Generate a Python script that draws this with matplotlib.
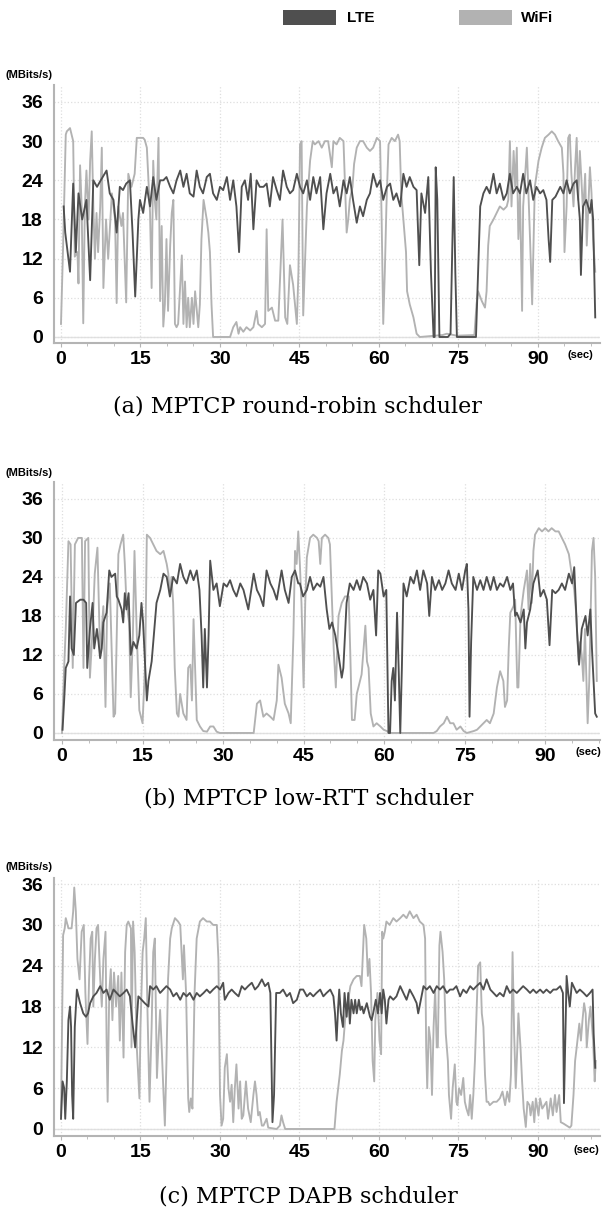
import matplotlib
matplotlib.use("Agg")
import matplotlib.pyplot as plt
from matplotlib.patches import Rectangle
from matplotlib.ticker import MultipleLocator

# ---------------- data ----------------
x_ticks = [0, 15, 30, 45, 60, 75, 90]
y_ticks = [0, 6, 12, 18, 24, 30, 36]
captions = ["(a) MPTCP round-robin schduler",
            "(b) MPTCP low-RTT schduler",
            "(c) MPTCP DAPB schduler"]
series_names = ["LTE", "WiFi"]

# (a) round-robin
a_lte_t = [0.5, 0.8, 1.1, 1.7, 2.3, 2.8, 3.3, 4.0, 4.8, 5.5, 6.1, 6.8, 7.5, 8.6, 9.2, 9.9, 10.5, 11.1, 11.7, 12.3,
           13.0, 13.5, 14.0, 14.6, 14.9, 15.5, 16.2, 16.8, 17.4, 18.0, 18.7, 19.3, 19.9, 20.6, 21.2, 21.8, 22.5, 23.1,
           23.7, 24.3, 25.0, 25.6, 26.2, 26.8, 27.5, 28.1, 28.7, 29.4, 30.0, 30.6, 31.3, 31.9, 32.5, 33.1, 33.6, 34.1,
           34.7, 35.3, 35.8, 36.3, 36.9, 37.5, 38.2, 38.8, 39.4, 40.0, 40.7, 41.3, 41.9, 42.6, 43.2, 43.8, 44.5, 45.1,
           45.7, 46.4, 47.0, 47.6, 48.2, 48.9, 49.5, 50.1, 50.8, 51.4, 52.0, 52.6, 53.3, 53.9, 54.5, 55.1, 55.8, 56.4,
           57.0, 57.7, 58.3, 58.9, 59.6, 60.2, 60.8, 61.5, 62.1, 62.7, 63.3, 64.0, 64.6, 65.2, 65.8, 66.5, 67.1, 67.6,
           68.0, 68.7, 69.3, 69.8, 70.3, 70.5, 70.7, 71.0, 71.4, 73.0, 73.5, 74.1, 74.4, 74.7, 78.3, 78.7, 79.1, 79.7,
           80.3, 80.9, 81.6, 82.2, 82.8, 83.5, 84.1, 84.7, 85.3, 86.0, 86.6, 87.2, 87.8, 88.5, 89.1, 89.7, 90.4, 91.0,
           91.6, 92.0, 92.3, 92.7, 93.3, 94.2, 94.8, 95.4, 96.0, 96.7, 97.3, 97.9, 98.1, 98.5, 99.1, 99.8, 100.1,
           100.4, 100.8]
a_lte_v = [20, 16, 14, 10, 23.5, 13, 22, 18, 21, 8.7, 24, 23, 24, 25.5, 22, 21, 16, 23, 22.5, 23.5,
           24, 16, 6.2, 18, 21, 19, 23, 20, 24.5, 21, 24, 24, 24.5, 23, 22, 24, 25.5, 23,
           25, 22, 21.5, 25.5, 23, 22, 24.5, 25, 22, 21, 23, 22.5, 24.5, 21, 24, 20, 13, 23,
           24, 21, 25, 16.5, 24, 23, 23, 23.5, 20, 24.5, 22.5, 21, 25.5, 23, 22, 22.5, 25, 23,
           22, 24, 21, 24.5, 22, 24.5, 16.5, 22, 25, 22, 23, 20, 24, 22, 24.5, 21, 17.5, 20,
           18.5, 21, 22, 25, 23, 24, 21, 23, 23.5, 21, 22, 20, 25, 23, 24.5, 23, 22.5, 11,
           22, 19, 24.5, 10, 0, 0, 26, 21, 0, 0, 0.5, 24.5, 10, 0, 0, 10, 20, 22,
           23, 22, 25, 22, 23.5, 21, 22, 25, 22, 23, 22, 25, 22, 24, 21, 23, 22, 22.5,
           21, 15, 11.5, 21, 21.5, 23, 22, 24, 22, 23.5, 24, 18, 9.5, 20, 21, 19, 21,
           18, 3]
a_wifi_t = [0.0, 0.4, 0.9, 1.1, 1.7, 2.0, 2.3, 2.6, 3.1, 3.3, 3.6, 3.9, 4.2, 4.5, 4.8, 5.2, 5.5, 5.8, 6.1, 6.4,
            6.7, 7.0, 7.4, 7.7, 8.0, 8.5, 8.9, 9.6, 10.2, 10.5, 10.8, 11.4, 11.7, 12.3, 12.7, 13.3, 13.9, 14.3,
            14.9, 15.5, 15.8, 16.2, 16.5, 16.8, 17.1, 17.4, 17.7, 18.0, 18.4, 18.7, 19.0, 19.3, 19.6, 19.9, 20.2,
            20.6, 20.9, 21.2, 21.5, 21.8, 22.1, 22.8, 23.1, 23.4, 23.7, 24.0, 24.3, 24.7, 25.0, 25.3, 25.9, 26.2,
            26.5, 26.9, 27.2, 27.5, 27.8, 28.1, 28.4, 28.7, 31.9, 32.5, 33.1, 33.5, 33.8, 34.4, 35.0, 35.7, 36.3,
            36.9, 37.2, 37.9, 38.5, 38.8, 39.1, 39.8, 40.4, 41.0, 41.8, 42.3, 42.7, 43.2, 43.8, 44.5, 44.8, 45.1,
            45.4, 45.7, 46.4, 47.0, 47.5, 47.9, 48.6, 49.2, 49.8, 50.4, 51.1, 51.4, 52.0, 52.6, 53.3, 53.9, 54.2,
            54.5, 55.0, 55.3, 55.8, 56.4, 57.0, 57.7, 58.3, 58.9, 59.6, 60.2, 60.5, 60.8, 61.1, 61.4, 61.8, 62.4,
            63.0, 63.6, 63.9, 64.2, 64.7, 65.1, 65.3, 65.8, 66.5, 67.1, 67.7, 72.0, 72.8, 74.7, 78.0, 78.4, 78.7,
            79.4, 80.0, 80.3, 80.6, 80.9, 81.6, 82.2, 82.8, 83.5, 84.1, 84.4, 84.7, 85.0, 85.4, 85.7, 86.0, 86.3,
            86.6, 87.0, 87.2, 87.9, 88.2, 88.5, 88.9, 89.4, 90.1, 90.7, 91.3, 92.0, 92.6, 93.2, 93.8, 94.5, 94.8,
            95.0, 95.4, 95.7, 96.0, 96.3, 96.7, 97.0, 97.3, 97.6, 97.9, 98.2, 98.5, 98.9, 99.2, 99.5, 99.8, 100.1,
            100.4, 100.8]
a_wifi_v = [2, 14, 31, 31.5, 32, 31, 30, 12.3, 13, 8.2, 26.3, 20, 2.1, 20, 25.5, 18, 27, 31.5, 20, 12,
            19, 13, 20, 29, 7.5, 18, 12, 22, 18, 5.2, 20, 17, 19, 5.3, 25, 23, 25, 30.5,
            30.5, 30.5, 30.2, 29, 24, 19, 7.5, 27, 21, 18, 30.5, 5.5, 17, 1.6, 5, 15, 4,
            14, 19, 21, 2, 1.5, 2, 12.5, 2, 8.5, 1.5, 6, 1.5, 6, 2, 7, 1.5, 5,
            15, 21, 19.5, 18, 16, 13, 5, 0, 0, 1.5, 2.3, 0.5, 1.5, 0.8, 1.5, 1, 1.5,
            4, 2, 1.5, 2, 16.5, 4, 4.5, 2.5, 2.5, 18, 3, 2, 11, 8, 2, 10, 29.5,
            30, 3.3, 20, 27, 30, 29.5, 30, 29, 30, 30, 26, 30, 29.5, 30.5, 30, 16, 18,
            21, 23, 26.5, 29, 30, 30, 29, 28.5, 29, 30.5, 30, 18, 2, 10, 20, 29.5, 30.5,
            30, 31, 30, 22, 17, 13, 7, 5, 3, 0.5, 0, 0.3, 0.5, 0.2, 0.3, 5, 7,
            5.5, 4.5, 7, 14, 17, 18, 19, 20, 19.5, 20, 21, 30, 20, 28.5, 23, 29, 15,
            22, 4, 20, 29, 22, 15, 5, 23, 27, 29, 30.5, 31, 31.5, 31, 30, 29, 25,
            13, 20, 30.5, 31, 25, 20, 26, 30.5, 21, 28.5, 24, 19, 25, 14, 20, 26, 22,
            15, 10]

# (b) low-RTT
b_lte_t = [0.1, 0.4, 0.7, 1.2, 1.5, 1.8, 2.2, 2.6, 3.4, 4.0, 4.5, 4.7, 5.2, 5.7, 6.0, 6.5, 6.8, 7.1, 7.4, 7.7,
           8.3, 8.8, 9.2, 9.9, 10.2, 10.5, 11.1, 11.4, 11.7, 12.0, 12.4, 12.8, 13.3, 13.9, 14.4, 14.8, 15.1, 15.8,
           16.1, 16.7, 17.1, 17.6, 18.3, 18.9, 19.5, 20.1, 20.7, 21.4, 22.0, 22.6, 23.2, 23.9, 24.5, 25.1, 25.6,
           26.0, 26.3, 26.6, 27.0, 27.3, 27.6, 28.2, 28.8, 29.4, 30.1, 30.7, 31.3, 31.9, 32.5, 33.2, 33.8, 34.7,
           35.7, 36.3, 36.9, 37.5, 38.1, 38.8, 39.4, 40.0, 40.9, 41.5, 42.2, 42.8, 43.4, 44.0, 44.3, 44.9, 45.6,
           46.2, 46.8, 47.5, 48.1, 48.7, 49.3, 49.8, 50.3, 50.9, 51.5, 52.1, 52.4, 53.0, 53.6, 54.3, 54.9, 55.5,
           56.1, 56.8, 57.4, 58.0, 58.5, 58.9, 59.3, 59.9, 60.4, 60.8, 61.1, 61.4, 61.7, 62.0, 62.4, 62.7, 63.0,
           63.3, 63.6, 64.2, 64.9, 65.5, 66.1, 66.7, 67.3, 68.0, 68.4, 68.9, 69.5, 70.2, 70.8, 71.4, 72.0, 72.6,
           73.3, 73.9, 74.5, 75.1, 75.4, 75.7, 75.9, 76.2, 76.6, 77.3, 77.9, 78.5, 79.1, 79.8, 80.4, 81.0, 81.6,
           82.2, 82.9, 83.5, 84.0, 84.4, 84.7, 85.4, 86.0, 86.3, 86.6, 87.2, 87.8, 88.6, 89.1, 89.7, 90.3, 90.8,
           91.3, 91.9, 92.5, 93.1, 93.7, 94.4, 95.0, 95.4, 95.9, 96.3, 96.8, 97.5, 97.9, 98.4, 98.7, 99.0, 99.3,
           99.6]
b_lte_v = [0.5, 5, 10, 11, 21, 13, 12, 20, 20.5, 20.5, 20, 10, 16, 20, 13, 16, 14, 11.5, 13, 17,
           18.5, 25, 24, 24.5, 21, 20.5, 19, 17, 21.5, 19, 21.5, 12, 14, 13, 15, 20, 17, 5,
           8, 11, 15, 20, 22, 24.5, 24, 21, 24, 23, 26, 24, 23, 25, 23.5, 25, 22,
           15, 7, 16, 7, 15, 26.5, 22, 23, 19.5, 23, 22.5, 23.5, 22, 21, 23, 22, 19,
           24.5, 22, 21, 19.5, 25, 23, 22, 20.5, 25, 22, 20, 24, 25, 23, 23, 21, 22,
           24, 22, 23, 22.5, 24, 19, 16, 17, 15, 12, 8.5, 10, 20, 23, 22, 23.5, 22,
           24, 23, 20.5, 22, 15, 25, 24.5, 21, 22, 0, 0, 8, 10, 5, 18.5, 10, 0,
           10, 23, 21, 24, 23, 25, 22, 25, 23, 18, 24, 22, 23.5, 22, 23, 25, 23,
           22, 24.5, 22, 25, 26, 19, 2.5, 14, 24, 22, 23.5, 22, 24, 22, 24, 22, 23,
           22.5, 24, 22, 23, 18, 18.5, 17, 19, 13, 17, 19, 23, 25, 21, 22, 20.5, 13.5,
           22, 21.5, 22, 23, 22, 24.5, 23, 25.5, 16, 10.5, 16, 18, 15, 19, 13, 8, 3,
           2.5]
b_wifi_t = [0.0, 0.4, 0.7, 1.2, 1.6, 2.0, 2.4, 3.0, 3.7, 4.0, 4.3, 4.9, 5.2, 5.7, 6.1, 6.6, 7.1, 7.7, 8.1, 8.4,
            8.9, 9.6, 9.9, 10.2, 10.5, 10.9, 11.4, 11.7, 12.0, 12.5, 12.8, 13.2, 13.5, 13.9, 14.4, 15.0, 15.5, 15.8,
            16.4, 17.0, 17.6, 18.3, 18.9, 19.5, 19.8, 20.1, 20.4, 20.7, 21.0, 21.4, 21.7, 22.0, 22.6, 23.2, 23.5,
            23.9, 24.2, 24.5, 24.8, 25.1, 25.7, 26.3, 27.0, 27.6, 28.2, 28.8, 29.4, 35.7, 36.3, 36.9, 37.5, 38.1,
            38.8, 39.4, 40.0, 40.3, 40.9, 41.5, 42.2, 42.6, 43.1, 43.4, 43.7, 44.0, 44.3, 44.6, 45.0, 45.3, 45.6,
            46.2, 46.8, 47.5, 47.8, 48.1, 48.4, 49.0, 49.6, 49.9, 50.3, 50.6, 51.0, 51.5, 52.1, 52.7, 53.4, 53.7,
            54.0, 54.5, 54.9, 55.2, 55.8, 56.5, 56.8, 57.1, 57.5, 58.0, 58.6, 59.3, 59.9, 60.5, 61.1, 69.2, 69.8,
            70.4, 71.1, 71.7, 72.3, 72.9, 73.5, 74.2, 74.8, 75.4, 76.7, 77.3, 77.9, 78.5, 79.1, 79.7, 80.4, 81.0,
            81.6, 82.2, 82.5, 82.9, 83.2, 83.5, 84.1, 84.4, 84.8, 85.0, 85.4, 86.0, 86.6, 86.9, 87.2, 87.5, 87.8,
            88.1, 88.8, 89.4, 90.0, 90.6, 91.2, 91.9, 92.5, 93.1, 93.7, 94.4, 95.0, 95.4, 95.8, 96.2, 96.5, 96.8,
            97.1, 97.4, 97.9, 98.2, 98.7, 99.0, 99.3, 99.6]
b_wifi_v = [0, 10, 16, 29.5, 29, 10, 29, 30, 30, 10, 29.5, 30, 8.5, 16, 24.5, 28.5, 12, 19.5, 4, 19,
            23, 2.5, 3, 15, 27.5, 29, 30.5, 26, 20, 17, 5.5, 15, 28, 16, 3.5, 1.5, 11, 30.5,
            30, 29, 28, 27.5, 28, 26, 24.5, 21, 24, 20, 10, 3, 2.5, 6, 3, 2, 10,
            10.5, 5, 17.5, 10, 2, 1, 0.3, 0.2, 1, 1, 0.2, 0, 0, 4.5, 5, 2.5, 3,
            2.5, 2, 5, 10.5, 8.5, 4.5, 3, 1.5, 15, 28, 26, 31, 26, 20, 7, 20, 27,
            30, 30.5, 30, 29.5, 26, 30, 30.5, 30, 29, 20, 13, 7, 18, 20, 21, 21, 12,
            2, 2, 6, 7, 9, 16.5, 11, 10, 3, 1, 1.5, 1, 0.5, 0.3, 0, 0, 0.3,
            1, 1.5, 2.5, 1.5, 1.5, 0.5, 1, 0.3, 0, 0.3, 0.5, 1, 1.5, 2, 1.5, 3, 7,
            9.5, 8, 4, 5, 13, 18.5, 19.5, 20.5, 7, 7, 18, 22, 25, 19, 26, 20, 28,
            30.5, 31.5, 31, 31.5, 31, 31.5, 31, 31, 30, 29, 27.5, 24, 22, 18, 11, 14, 12,
            8, 16, 1.5, 8, 28, 30, 24, 8]

# (c) DAPB
c_lte_t = [0.0, 0.3, 0.6, 0.8, 1.1, 1.4, 1.7, 1.9, 2.1, 2.3, 2.6, 3.0, 3.3, 3.6, 4.2, 4.7, 5.1, 5.5, 6.1, 6.7,
           7.4, 8.0, 8.6, 9.2, 9.9, 10.5, 11.1, 11.8, 12.4, 13.0, 13.5, 14.0, 14.3, 14.6, 15.2, 15.8, 16.5, 16.8,
           17.4, 18.0, 18.7, 19.3, 19.9, 20.6, 21.2, 21.8, 22.5, 23.1, 23.7, 24.3, 25.0, 25.6, 26.2, 26.9, 27.5,
           28.1, 28.7, 29.4, 30.0, 30.6, 30.9, 31.6, 32.2, 32.8, 33.5, 34.1, 34.7, 35.3, 36.0, 36.6, 37.2, 37.9,
           38.5, 39.1, 39.5, 39.9, 40.2, 40.6, 41.3, 41.9, 42.6, 43.2, 43.8, 44.5, 45.1, 45.7, 46.4, 47.0, 47.6,
           48.2, 48.9, 49.5, 50.1, 50.8, 51.4, 51.7, 52.0, 52.3, 52.5, 52.8, 53.2, 53.5, 53.9, 54.2, 54.5, 54.8,
           55.2, 55.5, 55.8, 56.2, 56.5, 56.8, 57.1, 57.7, 58.3, 58.6, 58.9, 59.4, 59.8, 60.2, 60.5, 60.8, 61.1,
           61.4, 61.8, 62.1, 62.7, 63.3, 64.0, 64.6, 65.2, 65.8, 66.5, 67.1, 67.4, 67.9, 68.4, 69.0, 69.6, 70.3,
           70.9, 71.5, 72.1, 72.8, 73.4, 74.0, 74.6, 75.3, 75.9, 76.5, 77.2, 77.8, 78.4, 79.1, 79.7, 80.3, 81.0,
           81.6, 82.2, 82.8, 83.5, 84.1, 84.7, 85.3, 86.0, 86.6, 87.2, 87.9, 88.5, 89.1, 89.7, 90.4, 91.0, 91.6,
           92.3, 92.9, 93.5, 94.2, 94.7, 94.9, 95.2, 95.4, 95.7, 96.0, 96.4, 96.7, 97.3, 97.9, 98.6, 99.2, 99.8,
           100.3, 100.5, 100.8]
c_lte_v = [1.5, 7, 6, 1.5, 7, 16, 18, 15, 5, 1.5, 15, 20.5, 19.5, 18.5, 17, 16.5, 17, 18.5, 19.5, 20,
           21, 20, 20.5, 19, 20.5, 20, 19.5, 20, 20.5, 19.5, 15.5, 12, 16, 19.5, 19, 18.5, 18, 21,
           20.5, 21, 20, 20.5, 21, 20.5, 19.5, 20, 19, 20, 19.5, 20, 19, 20, 19.5, 20, 20.5,
           20, 20.5, 21, 20.5, 21.5, 19, 20, 20.5, 20, 19.5, 21, 20.5, 21, 21.5, 20.5, 21, 22,
           21, 21.5, 20, 1, 5, 20, 20, 20.5, 19.5, 20, 18.5, 19, 20.5, 20.5, 19.5, 20, 19.5,
           20, 20.5, 19.5, 20, 20.5, 19.5, 17, 13, 18, 20.5, 17, 15, 20, 16.5, 20, 15.5, 19,
           17, 19, 17, 19, 17.5, 18, 17, 18.5, 16.5, 16, 17, 19, 17, 20, 17, 20.5, 19,
           15.5, 19, 19.5, 19, 19.5, 21, 20, 19, 20.5, 19.5, 18.5, 17, 19, 21, 20.5, 21, 20,
           21, 20.5, 21, 20, 20.5, 20.5, 21, 19.5, 20.5, 20, 21, 20.5, 21, 21.5, 20.5, 22, 20.5,
           20, 19.5, 20, 19.5, 21, 20, 20.5, 20, 20.5, 21, 20.5, 20, 20.5, 20, 20.5, 20, 20.5,
           20, 20.5, 20.5, 21, 20, 3.8, 15, 22.5, 20, 18, 21.5, 21, 20, 20.5, 20, 19.5, 20,
           20.5, 14, 9]
c_wifi_t = [0.0, 0.2, 0.4, 0.7, 0.9, 1.4, 2.0, 2.3, 2.5, 2.8, 3.1, 3.5, 3.9, 4.3, 4.6, 5.0, 5.3, 5.6, 5.9, 6.1,
            6.4, 6.7, 7.0, 7.4, 7.7, 8.0, 8.4, 8.6, 8.8, 9.1, 9.4, 9.7, 10.0, 10.4, 10.8, 11.1, 11.4, 11.8, 12.1,
            12.4, 12.7, 13.2, 13.3, 13.6, 13.9, 14.3, 14.8, 15.0, 15.4, 15.7, 16.0, 16.3, 16.7, 17.1, 17.4, 17.7,
            18.1, 18.4, 18.7, 19.0, 19.3, 19.6, 19.9, 20.2, 20.6, 20.9, 21.5, 22.1, 22.5, 22.8, 23.0, 23.2, 23.6,
            24.0, 24.2, 24.5, 24.8, 25.2, 25.6, 26.2, 26.8, 27.5, 28.1, 28.7, 29.4, 29.7, 30.0, 30.3, 30.6, 30.9,
            31.3, 31.6, 31.9, 32.2, 32.5, 32.8, 33.1, 33.5, 33.8, 34.1, 34.4, 34.9, 35.3, 35.8, 36.3, 36.6, 36.9,
            37.2, 37.5, 37.9, 38.2, 38.8, 39.1, 40.7, 41.3, 41.6, 41.9, 42.3, 51.6, 52.0, 52.3, 52.6, 53.0, 53.3,
            53.6, 53.9, 54.2, 54.6, 55.2, 55.8, 56.4, 56.7, 57.2, 57.6, 57.9, 58.2, 58.5, 58.8, 59.1, 59.3, 59.7,
            60.1, 60.4, 60.6, 60.8, 61.1, 61.4, 62.0, 62.7, 63.3, 64.0, 64.6, 65.2, 65.8, 66.5, 67.1, 67.7, 68.4,
            68.7, 68.9, 69.1, 69.4, 69.7, 70.0, 70.3, 70.6, 70.9, 71.1, 71.4, 71.6, 72.0, 72.3, 72.6, 73.0, 73.2,
            73.6, 73.9, 74.3, 74.6, 74.8, 75.1, 75.5, 75.9, 76.2, 76.5, 76.9, 77.2, 77.5, 77.8, 78.1, 78.4, 78.7,
            79.1, 79.4, 79.7, 80.0, 80.3, 80.6, 80.9, 81.6, 82.2, 82.8, 83.3, 83.8, 84.2, 84.6, 84.9, 85.2, 85.5,
            85.8, 86.1, 86.3, 86.7, 87.0, 87.3, 87.7, 88.0, 88.4, 88.6, 89.0, 89.3, 89.6, 90.1, 90.4, 90.8, 91.2,
            91.6, 91.9, 92.4, 92.8, 93.2, 93.5, 94.0, 94.3, 94.8, 95.4, 96.0, 96.3, 96.7, 97.0, 97.3, 97.8, 98.1,
            98.4, 98.7, 99.0, 99.2, 99.6, 99.9, 100.2, 100.4, 100.7, 100.9]
c_wifi_v = [2, 15, 28.5, 29.5, 31, 29.5, 29.5, 32, 35.5, 32, 25, 22, 29, 30, 20, 12.5, 22, 28, 29, 18,
            25, 29.5, 30, 22, 18, 25, 29, 13, 4, 20, 23.5, 16, 23, 18, 22.5, 13, 23, 10.5, 26,
            30, 30.5, 29.5, 12, 30.5, 26, 12, 4.5, 15, 26, 28, 31, 18, 4, 15, 26, 28,
            7.5, 13, 17.5, 12, 6, 0.5, 10, 22, 28, 29.5, 31, 30.5, 30, 25, 22, 27, 20,
            4.5, 2.5, 4.5, 3, 20, 28, 30.5, 31, 30.5, 30.5, 30, 30, 25, 5, 0.5, 1.5, 9,
            11, 6, 4, 6.5, 1, 6, 9.5, 3, 7, 1.5, 2, 7, 3, 1, 5, 7, 5,
            2, 2.5, 0.5, 0.5, 1.5, 0.2, 0, 0.5, 2, 1, 0, 0, 4, 6, 8, 11.5, 13,
            16, 18, 19, 21, 22, 22.5, 22.5, 21, 30, 28, 22.5, 25, 20, 10, 7, 16, 20,
            13, 11, 29, 28, 29, 30.5, 30, 31, 30.5, 31, 31.5, 31, 32, 31, 31.5, 30.5, 30,
            28, 12, 6, 15, 13, 5, 15, 20.5, 12, 12, 27, 29, 26, 22, 14, 10, 5,
            1.5, 6, 9.5, 4, 3.5, 6, 5, 7.5, 4, 3, 2, 5, 1.5, 5, 10, 17, 24,
            24.5, 17, 15, 8, 4, 4, 3.5, 4, 4, 4.5, 5.5, 3.5, 5.5, 4, 8, 26, 14,
            6, 12, 17, 12, 7, 3, 0.3, 4, 3.5, 2, 4, 1, 4.5, 2, 4.5, 3, 3.5,
            4, 1.5, 4.5, 2, 5, 2.5, 5, 1, 0.8, 0.5, 0.2, 0.5, 5, 10, 12, 15.5, 13,
            16, 18.5, 17, 12, 16, 18, 15, 13, 7, 10]

panels = [
    (a_lte_t, a_lte_v, a_wifi_t, a_wifi_v),
    (b_lte_t, b_lte_v, b_wifi_t, b_wifi_v),
    (c_lte_t, c_lte_v, c_wifi_t, c_wifi_v),
]

# ---------------- layout ----------------
W, H = 603, 1214
fig = plt.figure(figsize=(W / 100, H / 100), dpi=100)

LTE_C = "#4f4f4f"
WIFI_C = "#b2b2b2"
SPINE_C = "#b4b4b4"
GRID_C = "#dedede"

# axes boxes in pixels: (left, top, right, bottom), xlim, ylim
boxes = [
    ((54, 85, 600, 343), (-1.32, 101.7), (-0.92, 38.6)),
    ((54, 482, 600, 740), (-1.49, 100.2), (-1.08, 38.6)),
    ((54, 878, 600, 1136), (-1.32, 101.7), (-1.03, 36.9)),
]
unit_y = [75, 473, 867]
sec_pos = [(567, 355), (575, 752), (573, 1150)]
cap_pos = [(297, 406), (309, 798), (308, 1197)]

for i, ((lt, lv, wt, wv), (box, xl, yl)) in enumerate(zip(panels, boxes)):
    l, t, r, b = box
    ax = fig.add_axes([l / W, 1 - b / H, (r - l) / W, (b - t) / H])
    ax.set_xlim(*xl)
    ax.set_ylim(*yl)
    ax.set_xticks(x_ticks)
    ax.set_yticks(y_ticks)
    ax.xaxis.set_minor_locator(MultipleLocator(5))
    ax.grid(True, which="major", color=GRID_C, linestyle=":", linewidth=0.9)
    ax.axhline(0, color="#e2e2e2", linewidth=1.0, zorder=0.5)
    ax.plot(wt, wv, color=WIFI_C, linewidth=1.35, zorder=2)
    ax.plot(lt, lv, color=LTE_C, linewidth=1.35, zorder=3)
    for s in ["top", "right"]:
        ax.spines[s].set_visible(False)
    for s in ["left", "bottom"]:
        ax.spines[s].set_color(SPINE_C)
        ax.spines[s].set_linewidth(1.5)
    ax.tick_params(axis="y", length=0, pad=8, labelsize=14)
    ax.tick_params(axis="x", which="major", length=3, color=SPINE_C, pad=3, labelsize=14)
    ax.tick_params(axis="x", which="minor", length=2, color=SPINE_C)
    for lab in ax.get_xticklabels() + ax.get_yticklabels():
        lab.set_fontweight("bold")
        lab.set_family("Liberation Sans")
    fig.text(6 / W, 1 - unit_y[i] / H, "(MBits/s)", fontsize=8, fontweight="bold",
             family="Liberation Sans", ha="left", va="center")
    fig.text(sec_pos[i][0] / W, 1 - sec_pos[i][1] / H, "(sec)", fontsize=8, fontweight="bold",
             family="Liberation Sans", ha="left", va="center")
    fig.text(cap_pos[i][0] / W, 1 - cap_pos[i][1] / H, captions[i], fontsize=16,
             family="DejaVu Serif", ha="center", va="center")

# legend at top
for (x0, col, name, tx) in [(283, LTE_C, series_names[0], 347), (459, WIFI_C, series_names[1], 521)]:
    fig.patches.append(Rectangle((x0 / W, 1 - 25 / H), 53 / W, 15 / H, transform=fig.transFigure,
                                 facecolor=col, edgecolor="none"))
    fig.text(tx / W, 1 - 17.5 / H, name, fontsize=11, fontweight="bold", family="Liberation Sans",
             ha="left", va="center")

fig.savefig("out.png", dpi=100)
